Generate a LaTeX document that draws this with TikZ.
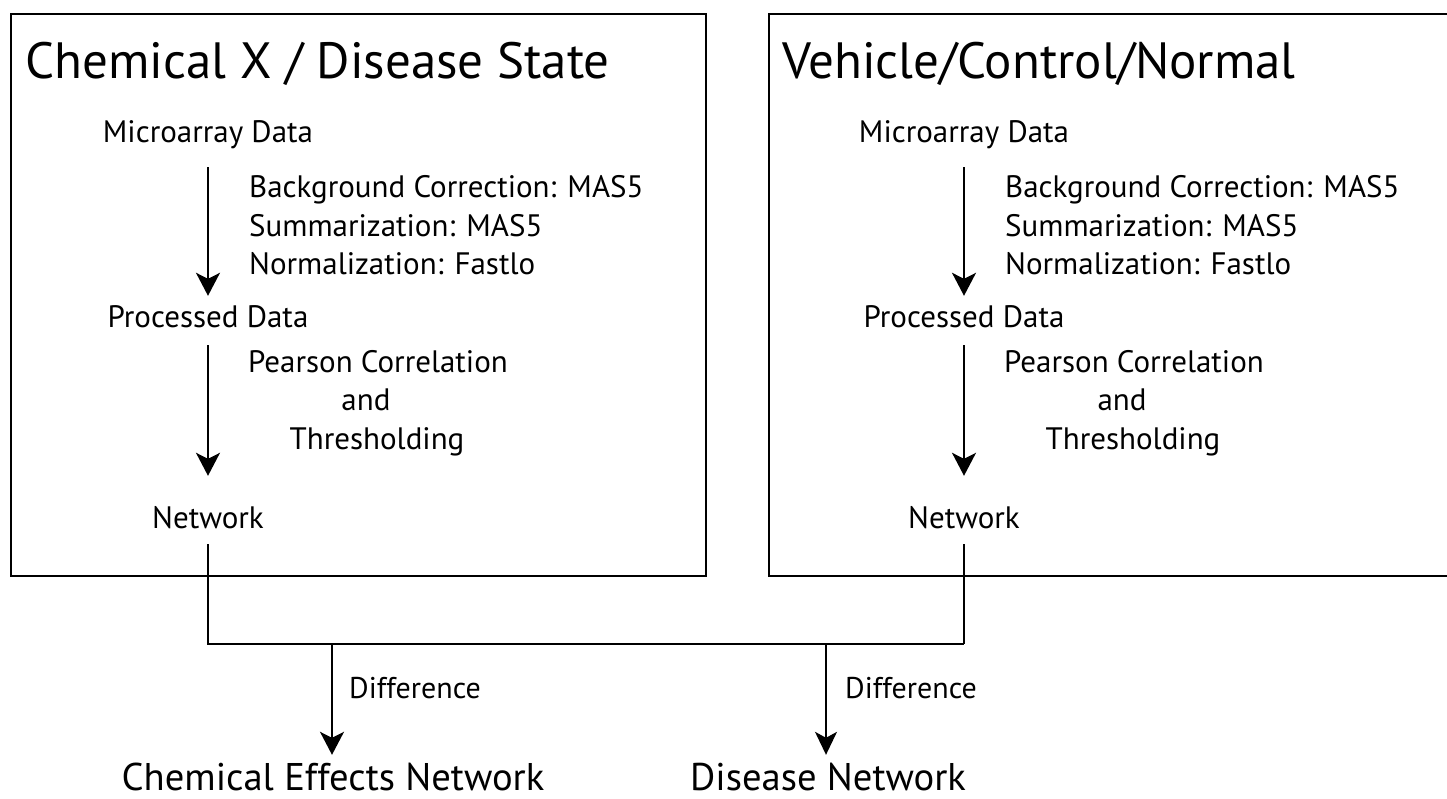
\documentclass[tikz,border=0pt]{standalone}
\usepackage{fontspec}
\setmainfont{PT Sans}
\usetikzlibrary{arrows.meta}
\begin{document}
\begin{tikzpicture}[x=1pt,y=-1pt,
  frame/.style={draw=black,line width=2.6pt},
  title/.style={inner sep=0pt,anchor=base west,font=\fontsize{51}{60}\selectfont},
  lbl/.style={inner sep=0pt,font=\fontsize{31}{36}\selectfont,text height=22pt,text depth=7pt},
  txt/.style={inner sep=0pt,anchor=base west,font=\fontsize{31}{36}\selectfont},
  small/.style={inner sep=0pt,anchor=base west,font=\fontsize{30}{34}\selectfont},
  big/.style={inner sep=0pt,font=\fontsize{38.6}{44}\selectfont,text height=28pt,text depth=5pt},
  flow/.style={line width=2pt,-{Stealth[length=23pt,width=24pt,inset=6pt]}},
  thinflow/.style={line width=1.6pt,-{Stealth[length=23pt,width=22pt,inset=6pt]}},
  joinline/.style={line width=2pt}]
\useasboundingbox (0,0) rectangle (1447,798);
\fill[white] (0,0) rectangle (1447,798);
\begin{scope}
\clip (0,0) rectangle (1447,798);
\draw[frame] (11,14) rectangle (706,576);
\draw[frame] (769,14) rectangle (1470,576);
\end{scope}
% left panel
\node[title] (t1) at (25,78) {Chemical X / Disease State};
\node[lbl,anchor=base] (ma1) at (208,142) {Microarray Data};
\node[txt] (s1a) at (249,197) {Background Correction: MAS5};
\node[txt] (s1b) at (249,236) {Summarization: MAS5};
\node[txt] (s1c) at (249,274) {Normalization: Fastlo};
\node[lbl,anchor=base] (pd1) at (208,327) {Processed Data};
\node[txt,anchor=base] (p1a) at (378,372) {Pearson Correlation};
\node[txt,anchor=base] (p1b) at (366,410) {and};
\node[txt,anchor=base] (p1c) at (377,449) {Thresholding};
\node[lbl,anchor=base] (nw1) at (208,528) {Network};
% right panel
\node[title] (t2) at (782,78) {Vehicle/Control/Normal};
\node[lbl,anchor=base] (ma2) at (964,142) {Microarray Data};
\node[txt] (s2a) at (1005,197) {Background Correction: MAS5};
\node[txt] (s2b) at (1005,236) {Summarization: MAS5};
\node[txt] (s2c) at (1005,274) {Normalization: Fastlo};
\node[lbl,anchor=base] (pd2) at (964,327) {Processed Data};
\node[txt,anchor=base] (p2a) at (1134,372) {Pearson Correlation};
\node[txt,anchor=base] (p2b) at (1122,410) {and};
\node[txt,anchor=base] (p2c) at (1133,449) {Thresholding};
\node[lbl,anchor=base] (nw2) at (964,528) {Network};
% bottom
\node[big,anchor=base] (cen) at (333,790) {Chemical Effects Network};
\node[big,anchor=base] (dn) at (828,790) {Disease Network};
\node[small] (d1) at (349,698) {Difference};
\node[small] (d2) at (845,698) {Difference};
% connectors
\draw[flow,shorten <=18pt,shorten >=9pt] (ma1.south) -- (pd1.north);
\draw[flow,shorten <=11pt,shorten >=30pt] (pd1.south) -- (nw1.north);
\draw[flow,shorten <=18pt,shorten >=9pt] (ma2.south) -- (pd2.north);
\draw[flow,shorten <=11pt,shorten >=30pt] (pd2.south) -- (nw2.north);
\coordinate (jl) at (208,644);
\coordinate (jr) at (964,644);
\draw[joinline,shorten <=9pt] (nw1.south) -- (jl) -- (jr);
\draw[joinline,shorten <=9pt] (nw2.south) -- (jr);
\coordinate (j1) at (332,644);
\coordinate (j2) at (826,644);
\draw[flow,shorten >=7pt] (j1) -- (j1 |- cen.north);
\draw[thinflow,shorten >=7pt] (j2) -- (j2 |- dn.north);
\end{tikzpicture}
\end{document}
